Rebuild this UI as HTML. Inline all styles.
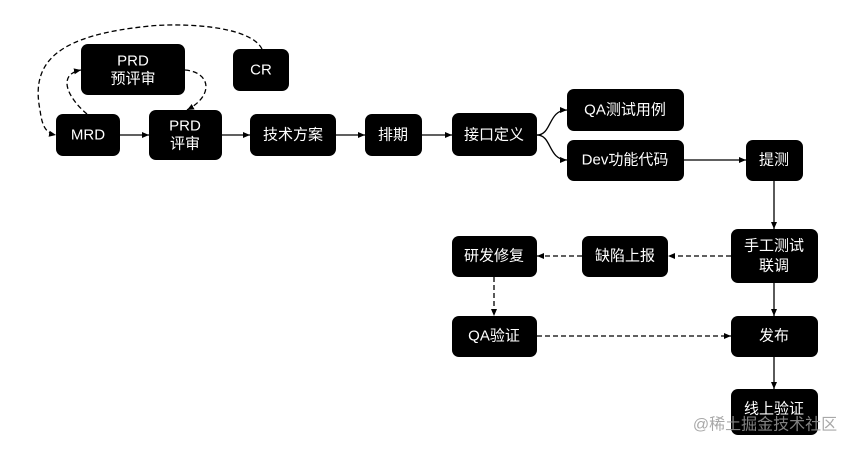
<!DOCTYPE html>
<html><head><meta charset="utf-8"><style>
body{margin:0;background:#fff;width:860px;height:452px;overflow:hidden}
svg text{font-family:"Liberation Sans","Noto Sans CJK SC",sans-serif;fill:#fff;font-size:15px;text-anchor:middle;dominant-baseline:central}
</style></head><body>
<svg width="860" height="452" viewBox="0 0 860 452" xmlns="http://www.w3.org/2000/svg">
<defs><marker id="a" markerWidth="8" markerHeight="8" refX="7" refY="4" orient="auto" markerUnits="userSpaceOnUse"><path d="M0,1 L7,4 L0,7 z" fill="#000"/></marker></defs>
<g fill="none" stroke="#000" stroke-width="1.3" marker-end="url(#a)">
<path d="M120,135 H149"/>
<path d="M222,135 H250"/>
<path d="M336,135 H365"/>
<path d="M422,135 H452"/>
<path d="M537,135 C552,135 548,110 567,110"/>
<path d="M537,135 C552,135 548,160 567,160"/>
<path d="M684,160 H746"/>
<path d="M774,181 V229"/>
<path d="M774,283 V316"/>
<path d="M774,357 V389"/>
</g>
<g fill="none" stroke="#000" stroke-width="1.3" stroke-dasharray="5,3" marker-end="url(#a)">
<path d="M87,114 C70,100 55,75 81,70"/>
<path d="M185,70 C210,72 215,95 187,110"/>
<path d="M262,49 C250,25 180,23 150,26 C60,35 30,60 40,110 C42,125 45,133 56,135"/>
<path d="M731,256 H668"/>
<path d="M582,256 H537"/>
<path d="M494,277 V316"/>
<path d="M537,336 H731"/>
</g>
<g fill="#000">
<rect x="81" y="44" width="104" height="51" rx="7"/>
<rect x="233" y="49" width="56" height="42" rx="7"/>
<rect x="56" y="114" width="64" height="42" rx="7"/>
<rect x="149" y="110" width="73" height="50" rx="7"/>
<rect x="250" y="114" width="86" height="42" rx="7"/>
<rect x="365" y="114" width="57" height="42" rx="7"/>
<rect x="452" y="113" width="85" height="43" rx="7"/>
<rect x="567" y="89" width="117" height="42" rx="7"/>
<rect x="567" y="140" width="117" height="41" rx="7"/>
<rect x="746" y="140" width="57" height="41" rx="7"/>
<rect x="731" y="229" width="87" height="54" rx="7"/>
<rect x="582" y="236" width="86" height="41" rx="7"/>
<rect x="452" y="236" width="85" height="41" rx="7"/>
<rect x="452" y="316" width="85" height="41" rx="7"/>
<rect x="731" y="316" width="87" height="41" rx="7"/>
<rect x="731" y="389" width="87" height="46" rx="7"/>
</g>
<text x="133" y="61">PRD</text><text x="133" y="79">预评审</text>
<text x="261" y="70">CR</text>
<text x="88" y="135">MRD</text>
<text x="185" y="126">PRD</text><text x="185" y="144">评审</text>
<text x="293" y="135">技术方案</text>
<text x="393" y="135">排期</text>
<text x="494" y="135">接口定义</text>
<text x="625" y="110">QA测试用例</text>
<text x="625" y="160">Dev功能代码</text>
<text x="774" y="160">提测</text>
<text x="774" y="246">手工测试</text><text x="774" y="266">联调</text>
<text x="625" y="256">缺陷上报</text>
<text x="494" y="256">研发修复</text>
<text x="494" y="336">QA验证</text>
<text x="774" y="336">发布</text>
<text x="774" y="409">线上验证</text>
<text x="765" y="425" style="fill:#999;font-size:16px;opacity:0.85">@稀土掘金技术社区</text>
</svg>
</body></html>
